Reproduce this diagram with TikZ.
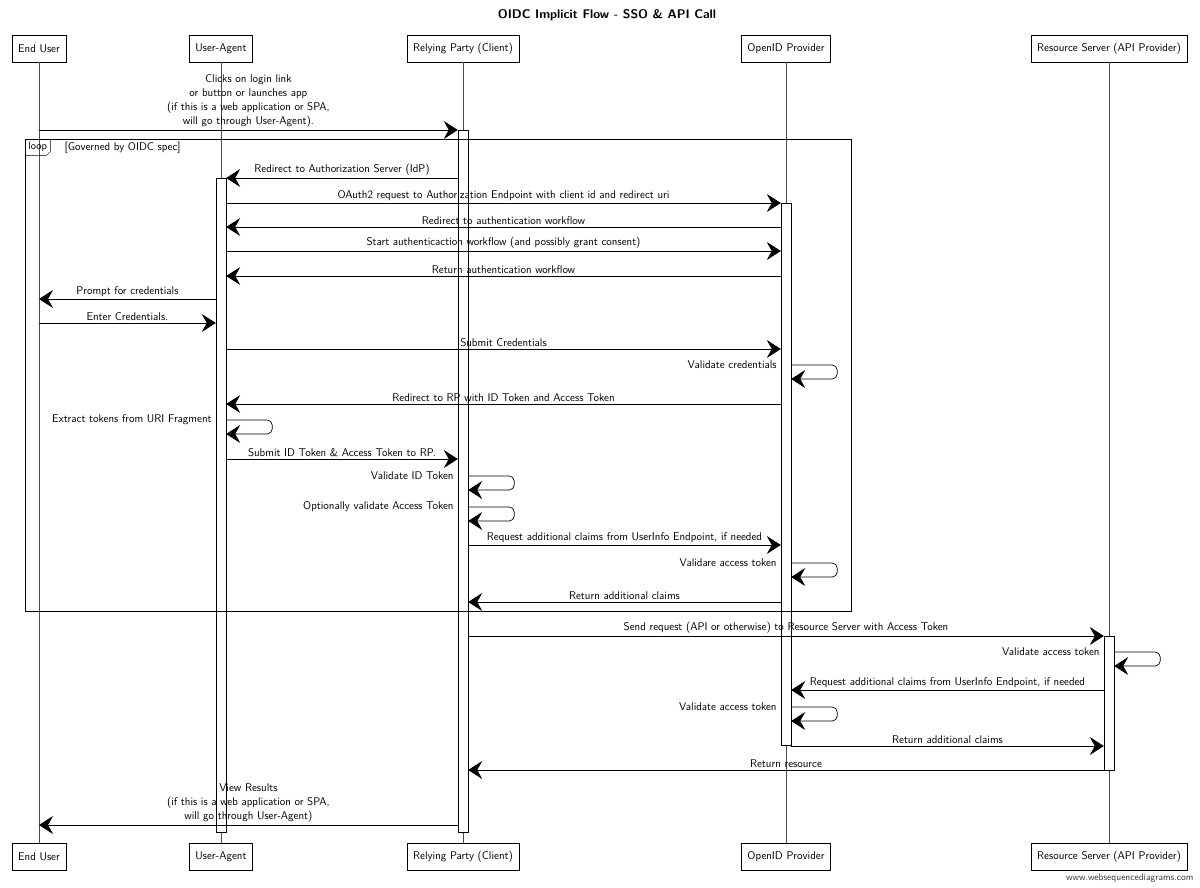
\documentclass[tikz,border=0pt]{standalone}
\usetikzlibrary{arrows.meta}
\newcommand{\seqfont}{\sffamily\fontsize{11.2}{14}\selectfont}
\tikzset{
 actor/.style={draw, fill=white, minimum height=27pt, inner xsep=6pt, font=\seqfont},
 activ/.style={draw, fill=white, minimum width=10pt, inner sep=0pt, anchor=north},
 lifeline/.style={draw=black!70},
 msg/.style={draw, line width=0.7pt, -{Stealth[length=14pt,width=18pt,inset=5pt]}},
 selfmsg/.style={msg, rounded corners=5pt},
 lbl/.style={font=\seqfont, inner sep=2pt},
}

\begin{document}
\begin{tikzpicture}[x=1pt, y=-1pt]
\useasboundingbox (0,0) rectangle (1200,887);
\node[font=\sffamily\bfseries\fontsize{12.5}{15}\selectfont] (title) at (607,15) {OIDC Implicit Flow - SSO \& API Call};

% participants, top and bottom
\foreach \n/\x/\t in {eu/39/End User, ua/221/User-Agent, rp/463/Relying Party (Client), op/786/OpenID Provider, rs/1109/Resource Server (API Provider)} {
 \node[actor] (\n-t) at (\x,48.5) {\t};
 \node[actor] (\n-b) at (\x,856.5) {\t};
 \draw[lifeline] (\n-t.south) -- (\n-b.north);
}

% activations
\node[activ, minimum height=702pt] (rp-act) at (463,130) {};
\node[activ, minimum height=654pt] (ua-act) at (221,178) {};
\node[activ, minimum height=542pt] (op-act) at (786,203) {};
\node[activ, minimum height=134pt] (rs-act) at (1109,636) {};

% loop frame
\draw (25,139) rectangle (851,611);
\node[anchor=north west, font=\sffamily\fontsize{10.5}{12}\selectfont, minimum width=25pt, minimum height=16pt, inner sep=1pt] (loop-tag) at (25,139) {loop};
\draw (loop-tag.south west) -- ([xshift=-4pt]loop-tag.south east) -- ([yshift=4pt]loop-tag.south east) -- (loop-tag.north east);
\node[lbl, anchor=west] (guard) at ([xshift=12pt]loop-tag.east) {[Governed by OIDC spec]};

\draw[msg] (eu-t |- 0,130) -- node[lbl, above, align=center] {Clicks on login link\\or button or launches app\\(if this is a web application or SPA,\\will go through User-Agent).} (rp-act.west |- 0,130);

\foreach \a/\b/\y/\t in {
 rp-act.west/ua-act.east/178/{Redirect to Authorization Server (IdP)},
 ua-act.east/op-act.west/203/{OAuth2 request to Authorization Endpoint with client id and redirect uri},
 op-act.west/ua-act.east/227/{Redirect to authentication workflow},
 ua-act.east/op-act.west/251/{Start authenticaction workflow (and possibly grant consent)},
 op-act.west/ua-act.east/276/{Return authentication workflow},
 ua-act.west/eu-t/299/{Prompt for credentials},
 eu-t/ua-act.west/323/{Enter Credentials.},
 ua-act.east/op-act.west/349/{Submit Credentials},
 op-act.west/ua-act.east/404/{Redirect to RP with ID Token and Access Token},
 ua-act.east/rp-act.west/459/{Submit ID Token \& Access Token to RP.},
 rp-act.east/op-act.west/545/{Request additional claims from UserInfo Endpoint, if needed},
 op-act.west/rp-act.east/602/{Return additional claims},
 rp-act.east/rs-act.west/636/{Send request (API or otherwise) to Resource Server with Access Token},
 rs-act.west/op-act.east/690/{Request additional claims from UserInfo Endpoint, if needed},
 op-act.east/rs-act.west/746/{Return additional claims},
 rs-act.west/rp-act.east/770/{Return resource}}
 \draw[msg] (\a |- 0,\y) -- node[lbl, above] {\t} (\b |- 0,\y);

% self calls
\foreach \n/\y/\t in {op/365/Validate credentials, ua/420/Extract tokens from URI Fragment, rp/476/Validate ID Token, rp/507/Optionally validate Access Token, op/563/Validare access token, rs/652/Validate access token, op/707/Validate access token} {
 \draw[selfmsg] (\n-act.east |- 0,\y) -- ++(46,0) -- ++(0,14) -- (\n-act.east |- 0,\y+14);
 \node[lbl, anchor=east, xshift=-2pt] at (\n-act.west |- 0,\y) {\t};
}

\draw[msg] (rp-act.west |- 0,825) -- node[lbl, above, align=center] {View Results\\(if this is a web application or SPA,\\will go through User-Agent)} (eu-t |- 0,825);

\node[anchor=south east, font=\sffamily\fontsize{9.5}{11}\selectfont, text=black!80] (credit) at (1197,886) {www.websequencediagrams.com};
\end{tikzpicture}
\end{document}
